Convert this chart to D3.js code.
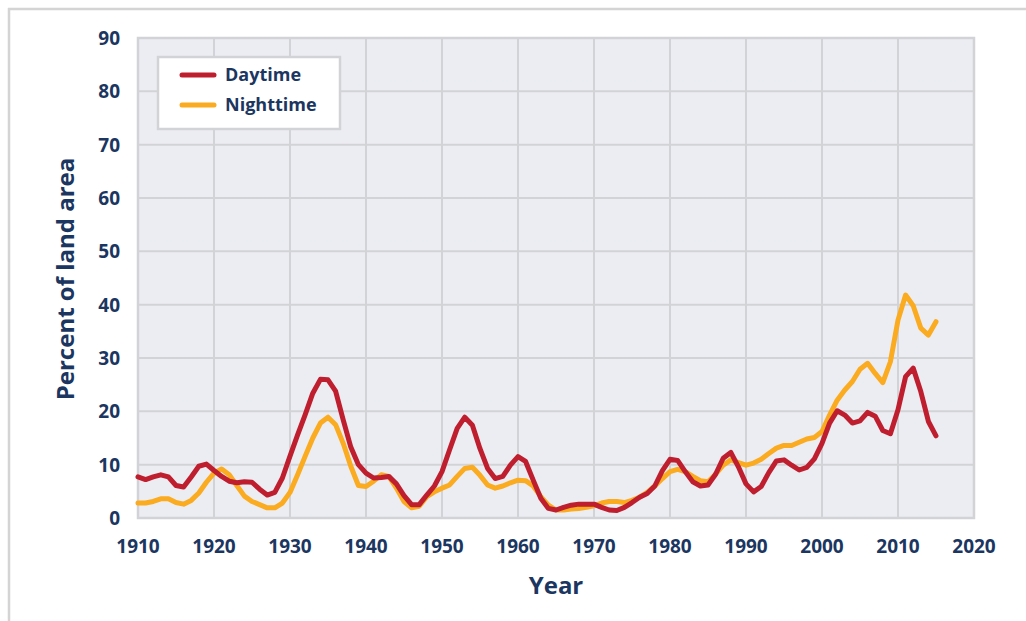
<!doctype html>
<html>
  <head>
    <script src="https://cdn.jsdelivr.net/npm/d3@7"></script>
    <style>
      body, html {
        margin: 0;
        background: #fff;
      }
      svg {
        display: block;
        font-family: "Open Sans", sans-serif;
        font-weight: bold;
      }
      .tick-label {
        fill: #1b3660;
        font-size: 19px;
      }
      .axis-title {
        fill: #1b3660;
        font-size: 24px;
      }
      .legend-label {
        fill: #1b3660;
        font-size: 18px;
      }
    </style>
  </head>
  <body>
    <svg width="1026" height="621"></svg>
    <script>

      var years = d3.range(1910, 2016);

      var daytime = [
        7.7, 7.2, 7.7, 8.1, 7.7, 6.1, 5.8, 7.7, 9.7, 10.1,
        8.9, 7.8, 6.9, 6.6, 6.8, 6.7, 5.4, 4.3, 4.8, 7.5,
        11.6, 15.6, 19.4, 23.4, 26.0, 25.9, 23.8, 18.4, 13.3, 10.0,
        8.4, 7.5, 7.6, 7.8, 6.4, 4.2, 2.5, 2.5, 4.3, 6.0,
        8.7, 12.8, 16.8, 18.9, 17.4, 13.0, 9.3, 7.4, 7.8, 9.9,
        11.5, 10.6, 7.1, 3.7, 1.8, 1.5, 2.0, 2.4, 2.6, 2.6,
        2.6, 2.0, 1.5, 1.4, 2.0, 2.9, 3.9, 4.6, 6.0, 8.9,
        11.0, 10.8, 8.7, 6.8, 6.0, 6.2, 8.2, 11.2, 12.3, 9.6,
        6.4, 4.9, 5.9, 8.5, 10.7, 10.9, 9.9, 9.0, 9.5, 11.1,
        14.0, 17.8, 20.1, 19.3, 17.8, 18.2, 19.8, 19.1, 16.4, 15.8,
        20.3, 26.5, 28.1, 23.7, 18.1, 15.4
      ];

      var nighttime = [
        2.8, 2.8, 3.1, 3.6, 3.6, 2.9, 2.6, 3.3, 4.7, 6.7,
        8.4, 9.2, 8.1, 6.1, 4.1, 3.1, 2.5, 1.9, 1.9, 2.8,
        4.8, 8.1, 11.6, 15.0, 17.8, 18.9, 17.5, 14.0, 9.7, 6.1,
        5.9, 6.9, 8.1, 7.8, 5.6, 3.1, 1.9, 2.2, 4.0, 4.9,
        5.6, 6.2, 7.8, 9.3, 9.5, 8.0, 6.2, 5.6, 6.0, 6.6,
        7.1, 7.0, 6.0, 4.0, 2.4, 1.5, 1.5, 1.7, 1.8, 2.0,
        2.3, 2.8, 3.1, 3.1, 2.9, 3.3, 3.9, 4.8, 6.0, 7.4,
        8.7, 9.1, 8.7, 7.8, 7.0, 6.8, 8.2, 9.9, 10.9, 10.4,
        9.9, 10.3, 11.0, 12.1, 13.1, 13.6, 13.6, 14.2, 14.8, 15.1,
        16.2, 19.3, 22.1, 24.0, 25.6, 27.9, 29.0, 27.1, 25.4, 29.3,
        37.1, 41.8, 39.8, 35.6, 34.3, 36.8
      ];

      var xTicks = d3.range(1910, 2021, 10);
      var yTicks = d3.range(0, 91, 10);

      var series = [
        { name: "Daytime", values: daytime, color: "#be1e2d" },
        { name: "Nighttime", values: nighttime, color: "#fbab1f" }
      ];

      var svg = d3.select("svg");

      var xScale = d3.scaleLinear().domain([1910, 2020]).range([138, 974]);
      var yScale = d3.scaleLinear().domain([0, 90]).range([518, 38]);

      // outer frame: only top and left edges show
      svg.append("path")
        .attr("d", "M9,621 V9 H1026")
        .attr("fill", "none")
        .attr("stroke", "#d4d4d4")
        .attr("stroke-width", 2.5);

      // plot background
      svg.append("rect")
        .attr("x", xScale(1910))
        .attr("y", yScale(90))
        .attr("width", xScale(2020) - xScale(1910))
        .attr("height", yScale(0) - yScale(90))
        .attr("fill", "#ecedf3");

      // grid
      svg.append("g")
        .selectAll("line")
        .data(xTicks.slice(1, -1))
        .join("line")
        .attr("x1", d => xScale(d))
        .attr("x2", d => xScale(d))
        .attr("y1", yScale(90))
        .attr("y2", yScale(0))
        .attr("stroke", "#d2d3d6")
        .attr("stroke-width", 2);

      svg.append("g")
        .selectAll("line")
        .data(yTicks.slice(1, -1))
        .join("line")
        .attr("x1", xScale(1910))
        .attr("x2", xScale(2020))
        .attr("y1", d => yScale(d))
        .attr("y2", d => yScale(d))
        .attr("stroke", "#d2d3d6")
        .attr("stroke-width", 2);

      svg.append("rect")
        .attr("x", xScale(1910))
        .attr("y", yScale(90))
        .attr("width", xScale(2020) - xScale(1910))
        .attr("height", yScale(0) - yScale(90))
        .attr("fill", "none")
        .attr("stroke", "#d2d3d6")
        .attr("stroke-width", 2.5);

      // tick labels
      svg.append("g")
        .selectAll("text")
        .data(yTicks)
        .join("text")
        .attr("class", "tick-label")
        .attr("x", 120)
        .attr("y", d => yScale(d))
        .attr("dy", "0.36em")
        .attr("text-anchor", "end")
        .text(d => d);

      svg.append("g")
        .selectAll("text")
        .data(xTicks)
        .join("text")
        .attr("class", "tick-label")
        .attr("x", d => xScale(d))
        .attr("y", 553)
        .attr("text-anchor", "middle")
        .text(d => d);

      // axis titles
      svg.append("text")
        .attr("class", "axis-title")
        .attr("transform", "translate(74,279) rotate(-90)")
        .attr("text-anchor", "middle")
        .text("Percent of land area");

      svg.append("text")
        .attr("class", "axis-title")
        .attr("x", (xScale(1910) + xScale(2020)) / 2)
        .attr("y", 594)
        .attr("text-anchor", "middle")
        .text("Year");

      // lines
      var line = d3.line()
        .x((d, i) => xScale(years[i]))
        .y(d => yScale(d));

      svg.append("g")
        .selectAll("path")
        .data(series.slice().reverse())
        .join("path")
        .attr("d", d => line(d.values))
        .attr("fill", "none")
        .attr("stroke", d => d.color)
        .attr("stroke-width", 5)
        .attr("stroke-linejoin", "round")
        .attr("stroke-linecap", "round");

      // legend
      var legend = svg.append("g");

      legend.append("rect")
        .attr("x", 158)
        .attr("y", 57)
        .attr("width", 182)
        .attr("height", 72)
        .attr("fill", "#fff")
        .attr("stroke", "#d2d3d6")
        .attr("stroke-width", 2.5);

      var items = legend.selectAll("g.item")
        .data(series)
        .join("g")
        .attr("class", "item")
        .attr("transform", (d, i) => "translate(0," + (75 + i * 30) + ")");

      items.append("line")
        .attr("x1", 182)
        .attr("x2", 214)
        .attr("stroke", d => d.color)
        .attr("stroke-width", 5)
        .attr("stroke-linecap", "round");

      items.append("text")
        .attr("class", "legend-label")
        .attr("x", 225)
        .attr("dy", "0.36em")
        .text(d => d.name);

    </script>
  </body>
</html>
